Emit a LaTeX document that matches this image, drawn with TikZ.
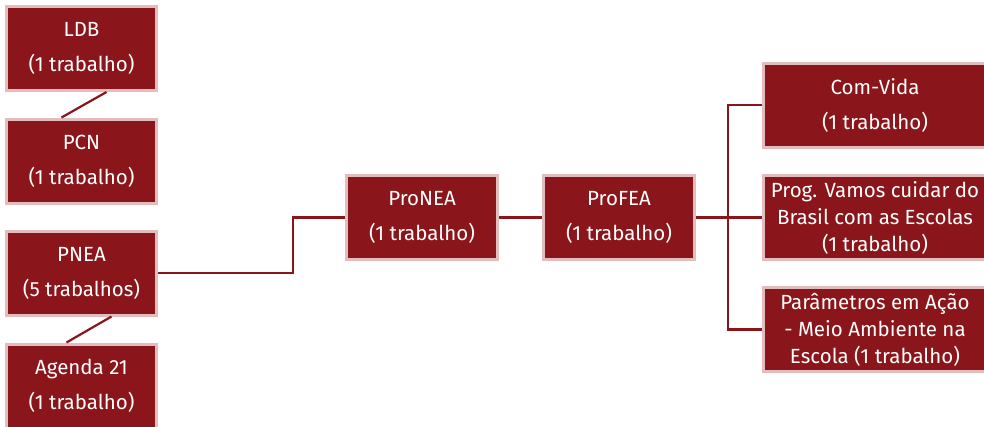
\documentclass[tikz,border=0pt]{standalone}
\usepackage{fontspec}
\setmainfont{Fira Sans}
\definecolor{boxred}{HTML}{8A161B}
\definecolor{boxedge}{HTML}{E3BDBD}
\begin{document}
\begin{tikzpicture}[x=1pt,y=-1pt,
  box/.style={rectangle, fill=boxred, draw=boxedge, line width=3pt, text=white,
    align=center, inner sep=0pt, minimum width=150pt, minimum height=84pt,
    font=\fontsize{20.5}{35}\selectfont},
  box3/.style={box, font=\fontsize{20.5}{27}\selectfont},
  link/.style={draw=boxred, line width=2.2pt}]
\useasboundingbox (0,0) rectangle (984,426);
\clip (0,0) rectangle (984,426);
\fill[white] (0,0) rectangle (984,426);
\node[box] (LDB) at (81.5,48.5) {LDB\\(1 trabalho)};
\node[box] (PCN) at (81.5,161) {PCN\\(1 trabalho)};
\node[box] (PNEA) at (81.5,273) {PNEA\\(5 trabalhos)};
\node[box] (AG) at (81.5,386) {Agenda 21\\(1 trabalho)};
\node[box, minimum width=151pt] (PRONEA) at (422,217.5) {ProNEA\\(1 trabalho)};
\node[box, minimum width=151pt] (PROFEA) at (619,217.5) {ProFEA\\(1 trabalho)};
\node[box, minimum width=223pt] (CV) at (875,105) {Com-Vida\\(1 trabalho)};
\node[box3, minimum width=223pt] (PROG) at (875,217.5) {Prog. Vamos cuidar do\\Brasil com as Escolas\\(1 trabalho)};
\node[box3, minimum width=223pt] (PAR) at (875,329.5) {Parâmetros em Ação\\- Meio Ambiente na\\Escola (1 trabalho)};
\coordinate (j1) at (293,0);
\coordinate (j2) at (728,0);
\draw[link] ([xshift=25pt]LDB.south) -- ([xshift=-20pt]PCN.north);
\draw[link] ([xshift=30pt]PNEA.south) -- ([xshift=-15pt]AG.north);
\draw[link] (PNEA.east) -- (PNEA.east -| j1) |- (PRONEA.west);
\draw[link] (PRONEA.east) -- (PROFEA.west);
\draw[link] (PROFEA.east) -- (PROG.west);
\draw[link] (CV.west) -| (j2 |- PAR.west) -- (PAR.west);
\end{tikzpicture}
\end{document}
